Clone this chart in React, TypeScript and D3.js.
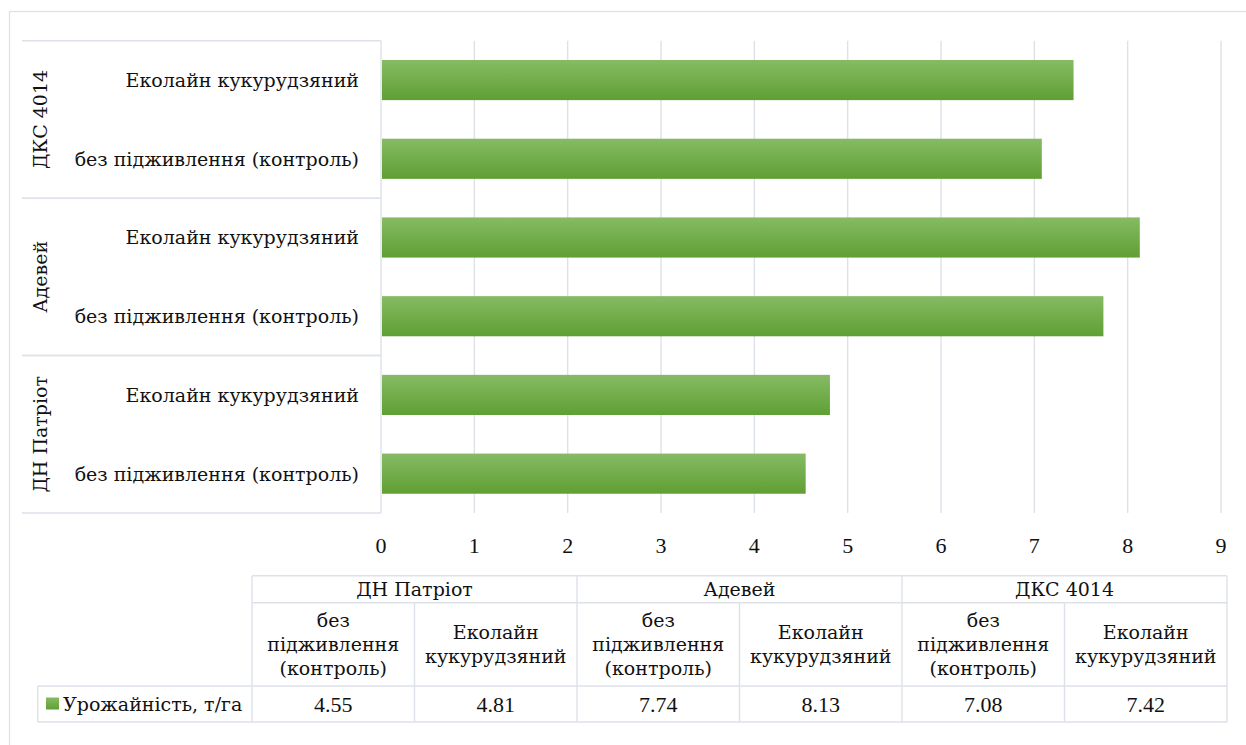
import React from "react";
import * as d3 from "d3";

const groups = ["ДН Патріот", "Адевей", "ДКС 4014"];
const treatments = ["без підживлення (контроль)", "Еколайн кукурудзяний"];
const treatmentLines = [["без", "підживлення", "(контроль)"], ["Еколайн", "кукурудзяний"]];
const values = [4.55, 4.81, 7.74, 8.13, 7.08, 7.42];
const xTicks = [0, 1, 2, 3, 4, 5, 6, 7, 8, 9];
const seriesName = "Урожайність, т/га";

const W = 1246;
const H = 745;
const FONT = "DejaVu Serif, Liberation Serif, serif";
const NUMFONT = "Liberation Serif, Times New Roman, serif";
const GRID = "#dde1e8";
const TXT = "#111";

export default function App() {
  const rows = groups.flatMap((g, gi) =>
    treatments.map((t, ti) => ({ group: g, gi, treatment: t, ti, key: `${gi}-${ti}`, value: values[gi * 2 + ti] }))
  );
  const order = rows.map((r) => r.key).reverse();

  const plotTop = 40.7;
  const plotBottom = 513;
  const x = d3.scaleLinear().domain([0, 9]).range([381, 1221]);
  const y = d3.scaleBand<string>().domain(order).range([plotTop, plotBottom]).paddingInner(0.49).paddingOuter(0.245);

  const groupY = (gi: number) => {
    const n = groups.length;
    const gh = (plotBottom - plotTop) / n;
    const top = plotTop + (n - 1 - gi) * gh;
    return { top, bottom: top + gh, mid: top + gh / 2 };
  };

  const tLeft = 252;
  const tRight = 1227;
  const tTop = 575.7;
  const tRow1 = 602.7;
  const tRow2 = 686;
  const tBottom = 722;
  const legendLeft = 37.7;
  const col = d3.scaleBand<number>().domain(d3.range(rows.length)).range([tLeft, tRight]);
  const grp = d3.scaleBand<number>().domain(d3.range(groups.length)).range([tLeft, tRight]);

  const lineH = 24;
  const row2Mid = (tRow1 + tRow2) / 2;
  const fs = 19;
  const nfs = 22;
  const ts: React.CSSProperties = { fontFamily: FONT };
  const ns: React.CSSProperties = { fontFamily: NUMFONT };

  return (
    <svg width={W} height={H} style={{ position: "absolute", left: 0, top: 0, fontFamily: FONT }}>
      <defs>
        <linearGradient id="barGrad" x1="0" y1="0" x2="0" y2="1">
          <stop offset="0%" stopColor="#86bb64" />
          <stop offset="100%" stopColor="#5f9f33" />
        </linearGradient>
      </defs>
      <rect x={0} y={0} width={W} height={H} fill="#fff" />
      <rect x={9.5} y={11.5} width={W + 20} height={H + 20} fill="none" stroke={GRID} strokeWidth={1.3} />

      {xTicks.map((t) => (
        <line key={`g${t}`} x1={x(t)} x2={x(t)} y1={plotTop} y2={plotBottom} stroke={GRID} strokeWidth={1.4} />
      ))}

      {[0, 1, 2].map((gi) => {
        const g = groupY(gi);
        return (
          <g key={`gl${gi}`}>
            <line x1={22} x2={x(0)} y1={g.top} y2={g.top} stroke={GRID} strokeWidth={1.4} />
            <line x1={22} x2={x(0)} y1={g.bottom} y2={g.bottom} stroke={GRID} strokeWidth={1.4} />
          </g>
        );
      })}

      {rows.map((r) => (
        <rect
          key={`b${r.key}`}
          x={x(0) + 1}
          y={y(r.key)!}
          width={x(r.value) - x(0) - 1}
          height={y.bandwidth()}
          fill="url(#barGrad)"
        />
      ))}

      {rows.map((r) => (
        <text
          key={`l${r.key}`}
          x={359}
          y={y(r.key)! + y.bandwidth() / 2}
          textAnchor="end"
          dominantBaseline="central"
          fontSize={fs}
          fill={TXT}
          style={ts}
        >
          {r.treatment}
        </text>
      ))}

      {groups.map((g, gi) => {
        const gy = groupY(gi);
        return (
          <text
            key={`gt${gi}`}
            transform={`translate(40,${gy.mid}) rotate(-90)`}
            textAnchor="middle"
            dominantBaseline="central"
            fontSize={fs}
            fill={TXT}
            style={ts}
          >
            {g}
          </text>
        );
      })}

      {xTicks.map((t) => (
        <text key={`t${t}`} x={x(t)} y={545} textAnchor="middle" dominantBaseline="central" fontSize={nfs} fill={TXT} style={ns}>
          {t}
        </text>
      ))}

      <g stroke={GRID} strokeWidth={1.4}>
        <line x1={tLeft} x2={tRight} y1={tTop} y2={tTop} />
        <line x1={tLeft} x2={tRight} y1={tRow1} y2={tRow1} />
        <line x1={legendLeft} x2={tRight} y1={tRow2} y2={tRow2} />
        <line x1={legendLeft} x2={tRight} y1={tBottom} y2={tBottom} />
        <line x1={legendLeft} x2={legendLeft} y1={tRow2} y2={tBottom} />
        {d3.range(groups.length + 1).map((i) => {
          const xx = i < groups.length ? grp(i)! : tRight;
          return <line key={`gv${i}`} x1={xx} x2={xx} y1={tTop} y2={tBottom} />;
        })}
        {rows.map((_, i) =>
          i % 2 === 1 ? <line key={`cv${i}`} x1={col(i)!} x2={col(i)!} y1={tRow1} y2={tBottom} /> : null
        )}
      </g>

      {groups.map((g, gi) => (
        <text
          key={`th${gi}`}
          x={grp(gi)! + grp.bandwidth() / 2}
          y={(tTop + tRow1) / 2}
          textAnchor="middle"
          dominantBaseline="central"
          fontSize={fs}
          fill={TXT}
          style={ts}
        >
          {g}
        </text>
      ))}

      {rows.map((r, i) => {
        const lines = treatmentLines[r.ti];
        const cx = col(i)! + col.bandwidth() / 2;
        const start = row2Mid - ((lines.length - 1) * lineH) / 2;
        return (
          <text key={`tt${i}`} textAnchor="middle" fontSize={fs} fill={TXT} style={ts}>
            {lines.map((ln, li) => (
              <tspan key={li} x={cx} y={start + li * lineH} dominantBaseline="central">
                {ln}
              </tspan>
            ))}
          </text>
        );
      })}

      {rows.map((r, i) => (
        <text
          key={`tv${i}`}
          x={col(i)! + col.bandwidth() / 2}
          y={(tRow2 + tBottom) / 2}
          textAnchor="middle"
          dominantBaseline="central"
          fontSize={nfs}
          fill={TXT}
          style={ns}
        >
          {r.value.toFixed(2)}
        </text>
      ))}

      <rect x={46} y={697.5} width={13} height={12} fill="url(#barGrad)" />
      <text x={63} y={(tRow2 + tBottom) / 2} dominantBaseline="central" fontSize={fs} fill={TXT} style={ts}>
        {seriesName}
      </text>
    </svg>
  );
}
